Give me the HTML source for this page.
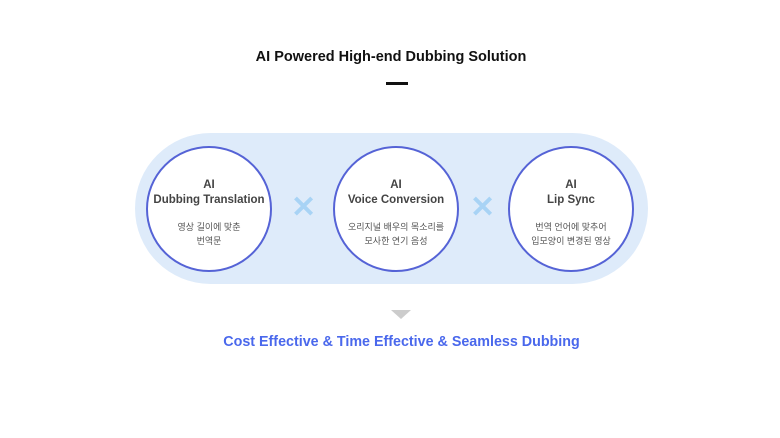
<!DOCTYPE html>
<html><head><meta charset="utf-8"><style>
body{margin:0;width:780px;height:438px;background:#fff;position:relative;overflow:hidden;font-family:"Liberation Sans","Noto Sans CJK KR",sans-serif}
.a{position:absolute}
.c{position:absolute;width:122px;height:122px;border:2px solid #5563d6;border-radius:50%;background:#fff;top:146px;text-align:center}
.h{font-weight:bold;font-size:11.5px;color:#444;line-height:15px;margin-top:30px}
.s{font-size:9px;color:#555;line-height:14px;margin-top:12px}
.x{position:absolute;top:195px;font-size:30px;color:#a8d3f5;font-weight:bold;line-height:26px}
</style></head><body>
<div class="a" style="left:0;width:782px;top:49px;text-align:center;font-weight:bold;font-size:14.5px;color:#111">AI Powered High-end Dubbing Solution</div>
<div class="a" style="left:386px;top:82px;width:22px;height:3px;background:#111"></div>
<div class="a" style="left:135px;top:133px;width:513px;height:151px;border-radius:76px;background:#deebfa"></div>
<div class="c" style="left:146px"><div class="h">AI<br>Dubbing Translation</div><div class="s">영상 길이에 맞춘<br>번역문</div></div>
<div class="c" style="left:333px"><div class="h">AI<br>Voice Conversion</div><div class="s">오리지널 배우의 목소리를<br>모사한 연기 음성</div></div>
<div class="c" style="left:508px"><div class="h">AI<br>Lip Sync</div><div class="s">번역 언어에 맞추어<br>입모양이 변경된 영상</div></div>
<div class="x" style="left:291px">✕</div>
<div class="x" style="left:470px">✕</div>
<div class="a" style="left:391px;top:310px;width:0;height:0;border-left:10px solid transparent;border-right:10px solid transparent;border-top:9px solid #ccc"></div>
<div class="a" style="left:0;width:803px;top:334px;text-align:center;font-weight:bold;font-size:14.3px;color:#4a68ec">Cost Effective &amp; Time Effective &amp; Seamless Dubbing</div>
</body></html>
